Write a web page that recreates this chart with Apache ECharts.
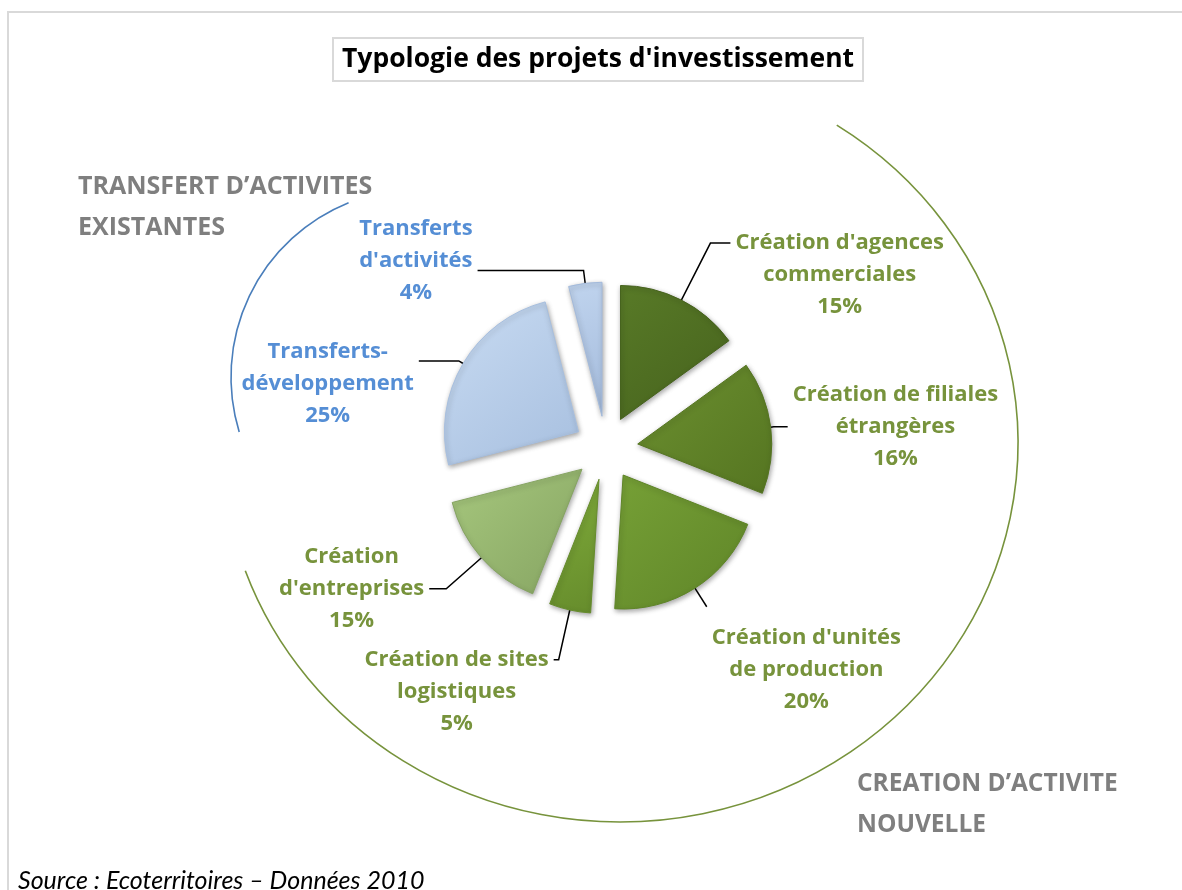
<!DOCTYPE html>
<html>
<head>
<meta charset="utf-8">
<script src="https://cdn.jsdelivr.net/npm/echarts@6/dist/echarts.min.js"></script>
<style>
  html, body { margin: 0; padding: 0; background: #fff; }
  #chart { width: 1182px; height: 890px; }
</style>
</head>
<body>
<div id="chart"></div>
<script>
// data, clockwise from 12 o'clock
var categories = [
  "Création d'agences\ncommerciales",
  "Création de filiales\nétrangères",
  "Création d'unités\nde production",
  "Création de sites\nlogistiques",
  "Création\nd'entreprises",
  "Transferts-\ndéveloppement",
  "Transferts\nd'activités"
];
var shares = [15, 16, 20, 5, 15, 25, 4];
var groups = ['new', 'new', 'new', 'new', 'new', 'move', 'move'];
var groupTitles = ["TRANSFERT D\u2019ACTIVITES\nEXISTANTES", "CREATION D\u2019ACTIVITE\nNOUVELLE"];

// styles
var sliceColors = ['#587a27', '#6c9030', '#76a036', '#7fab3a', '#a6c77d', '#c8dbf2', '#c0d4ee'];
var sliceEdges  = ['#46621d', '#557521', '#5f8528', '#668c2c', '#86a462', '#a7bfdf', '#a3badb'];
var lineLen  = [64, 3, 22, 51, 47, 5, 13];
var lineLen2 = [20, 14, 0, 5, 17, 40, 106];
var labelPad = [[64, 0, 0, 0], 0, [127, 0, 0, 0], [64, 0, 0, 0], 0, [46, 0, 0, 0], [0, 0, 20, 0]];
var textColor = { 'new': '#77933c', 'move': '#558ed5' };
var BOLD = '"Open Sans", Lato, sans-serif';
var FONT = 'Lato, "Open Sans", sans-serif';
var DEG = Math.PI / 180;

var chart = echarts.init(document.getElementById('chart'));

var pieData = categories.map(function (name, i) {
  return {
    name: name,
    value: shares[i],
    selected: true,
    itemStyle: {
      color: {
        type: 'linear', x: 0, y: 0, x2: 1, y2: 1,
        colorStops: [
          { offset: 0, color: sliceColors[i] },
          { offset: 1, color: sliceEdges[i] }
        ]
      },
      borderColor: sliceEdges[i]
    },
    label: {
      padding: labelPad[i],
      rich: { t: { color: textColor[groups[i]] } }
    },
    labelLine: { length: lineLen[i], length2: lineLen2[i] }
  };
});

var option = {
  animation: false,
  backgroundColor: '#fff',
  title: [
    {
      text: "Typologie des projets d'investissement",
      left: 333, top: 38,
      padding: [5, 9, 5, 9],
      borderColor: '#d9d9d9', borderWidth: 2,
      textStyle: { fontFamily: BOLD, fontSize: 26.5, fontWeight: 'bold', color: '#000', lineHeight: 33 }
    },
    {
      text: groupTitles[0],
      left: 78, top: 166, padding: 0,
      textStyle: { fontFamily: BOLD, fontSize: 25, fontWeight: 'bold', color: '#7f7f7f', lineHeight: 41 }
    },
    {
      text: groupTitles[1],
      left: 857, top: 764, padding: 0,
      textStyle: { fontFamily: BOLD, fontSize: 24.5, fontWeight: 'bold', color: '#7f7f7f', lineHeight: 41 }
    },
    {
      text: 'Source : Ecoterritoires \u2013 Données 2010',
      left: 18, top: 866, padding: 0,
      textStyle: { fontFamily: FONT, fontSize: 25, fontStyle: 'italic', fontWeight: 'normal', color: '#000', lineHeight: 30 }
    }
  ],
  graphic: [
    {
      type: 'polyline', silent: true,
      shape: { points: [[8, 892], [8, 12], [1190, 12]] },
      style: { stroke: '#d9d9d9', lineWidth: 2, fill: null }
    },
    {
      // ellipse-shaped arc around the "new activity" slices
      type: 'arc', silent: true,
      shape: { cx: 620, cy: 443, r: 398, startAngle: -57 * DEG, endAngle: 160.3 * DEG, clockwise: true },
      scaleY: 379 / 398, originX: 620, originY: 443,
      style: { stroke: '#77933c', lineWidth: 1.6, fill: null }
    },
    {
      type: 'arc', silent: true,
      shape: { cx: 419, cy: 377, r: 188, startAngle: -112 * DEG, endAngle: 163 * DEG, clockwise: false },
      style: { stroke: '#4a7ebb', lineWidth: 1.6, fill: null }
    }
  ],
  series: [{
    type: 'pie',
    center: [606, 448],
    radius: 134,
    startAngle: 90,
    clockwise: true,
    selectedMode: 'multiple',
    selectedOffset: 32,
    avoidLabelOverlap: false,
    emphasis: { scale: false },
    itemStyle: {
      borderWidth: 1,
      shadowBlur: 5,
      shadowColor: 'rgba(0,0,0,0.35)',
      shadowOffsetX: 1,
      shadowOffsetY: 2
    },
    label: {
      show: true,
      position: 'outside',
      formatter: '{t|{b}}\n{t|{c}%}',
      rich: {
        t: { fontFamily: BOLD, fontSize: 22, fontWeight: 'bold', lineHeight: 32, align: 'center' }
      }
    },
    labelLine: {
      show: true,
      lineStyle: { color: '#000', width: 1.5 }
    },
    data: pieData
  }]
};

chart.setOption(option);
</script>
</body>
</html>
